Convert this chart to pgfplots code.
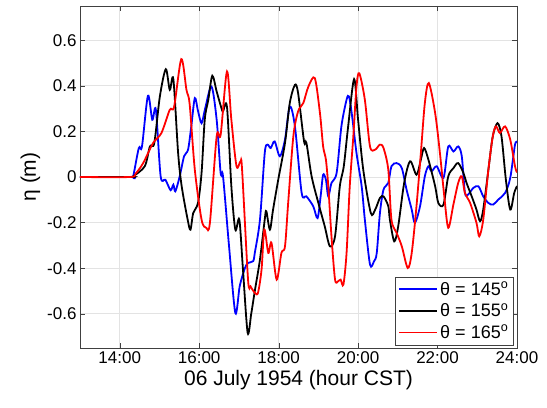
\documentclass[border=0pt]{standalone}
\usepackage{fontspec}
\setmainfont{Liberation Sans}
\usepackage{pgfplots}
\pgfplotsset{compat=1.18}
\pgfplotsset{longline/.style={legend image code/.code={\draw[##1] (0pt,0pt) -- (38pt,0pt);}}}

\begin{document}
\begin{tikzpicture}
\begin{axis}[
  scale only axis, width=437pt, height=342pt,
  xmin=13, xmax=24, ymin=-0.75, ymax=0.75,
  xtick={14,16,18,20,22,24},
  xticklabels={14:00,16:00,18:00,20:00,22:00,24:00},
  ytick={-0.6,-0.4,-0.2,0,0.2,0.4,0.6},
  yticklabels={-0.6,-0.4,-0.2,0,0.2,0.4,0.6},
  tick label style={font=\fontsize{17}{20}\selectfont},
  label style={font=\fontsize{21}{24}\selectfont},
  xlabel={06 July 1954 (hour CST)},
  ylabel={η (m)},
  grid=major, grid style={gray!22, line width=0.6pt},
  axis line style={black!75, line width=0.8pt},
  major tick length=5pt,
  tick style={black!75},
  legend cell align=left,
  legend style={at={(0.992,0.009)}, anchor=south east, draw=black!75, fill=white,
    font=\fontsize{18}{21}\selectfont, row sep=3pt, inner sep=3pt},
  longline,
]
\addplot[blue, line width=1.8pt, smooth, tension=0.5] coordinates {
(13,0)(14.30,0)(14.34,0.003)(14.48,0.127)(14.56,0.134)(14.71,0.356)(14.82,0.251)(14.91,0.295)
(15.03,0.003)(15.15,-0.012)(15.28,-0.058)(15.35,-0.034)(15.40,-0.063)(15.51,0.003)(15.62,0.091)
(15.72,0.12)(15.80,0.22)(15.89,0.346)(15.97,0.29)(16.06,0.236)(16.15,0.30)(16.31,0.397)(16.44,0.251)
(16.54,0.018)(16.60,0.003)(16.75,-0.30)(16.91,-0.596)(17.02,-0.479)(17.15,-0.40)(17.23,-0.377)
(17.36,-0.369)(17.40,-0.333)(17.53,-0.187)(17.65,0.105)(17.72,0.142)(17.80,0.127)(17.90,0.156)
(18.03,0.091)(18.16,0.164)(18.28,0.309)(18.41,0.222)(18.58,-0.070)(18.70,-0.085)(18.87,-0.128)
(18.98,-0.180)(19.06,-0.08)(19.12,0.01)(19.19,-0.012)(19.25,-0.085)(19.33,-0.026)(19.46,0.018)
(19.58,0.222)(19.71,0.339)(19.77,0.353)(19.84,0.280)(19.96,0.105)(20.09,-0.041)(20.17,-0.187)
(20.30,-0.384)(20.40,-0.37)(20.47,-0.333)(20.55,-0.158)(20.64,-0.055)(20.76,-0.026)(20.84,0.047)
(20.97,0.061)(21.10,0.039)(21.22,-0.055)(21.35,-0.143)(21.43,-0.201)(21.56,-0.128)(21.68,0.003)
(21.77,0.047)(21.85,0.025)(21.98,0.047)(22.15,-0.004)(22.27,0.134)(22.40,0.112)(22.52,0.134)
(22.61,0.091)(22.69,-0.070)(22.77,-0.077)(22.90,-0.048)(23.03,-0.041)(23.15,-0.085)(23.28,-0.114)
(23.40,-0.121)(23.53,-0.099)(23.70,-0.070)(23.83,-0.004)(23.95,0.142)(24,0.15)
};
\addplot[black, line width=1.8pt, smooth, tension=0.5] coordinates {
(13,0)(14.30,0)(14.34,0.003)(14.63,0.047)(14.76,0.134)(14.87,0.149)(15.01,0.353)(15.16,0.473)
(15.26,0.382)(15.35,0.429)(15.47,0.105)(15.56,-0.041)(15.71,-0.187)(15.78,-0.231)(15.85,-0.158)
(15.97,-0.114)(16.06,0.018)(16.14,0.251)(16.23,0.339)(16.33,0.444)(16.44,0.375)(16.56,0.302)
(16.60,0.288)(16.70,0.307)(16.81,-0.041)(16.91,-0.231)(17.01,-0.187)(17.10,-0.40)(17.22,-0.683)
(17.31,-0.60)(17.40,-0.50)(17.53,-0.362)(17.65,-0.187)(17.69,-0.150)(17.78,-0.231)(17.86,-0.143)
(17.99,-0.012)(18.16,0.149)(18.28,0.324)(18.41,0.404)(18.49,0.368)(18.64,0.156)(18.70,0.149)
(18.83,0.003)(19.00,-0.114)(19.16,-0.216)(19.29,-0.304)(19.42,-0.260)(19.54,-0.041)(19.64,0.047)
(19.75,0.222)(19.90,0.429)(20.00,0.251)(20.13,0.032)(20.32,-0.158)(20.43,-0.143)(20.55,-0.092)
(20.64,-0.085)(20.76,-0.128)(20.80,-0.187)(20.91,-0.282)(21.01,-0.216)(21.16,-0.026)(21.31,0.069)
(21.47,0.010)(21.58,0.076)(21.66,0.127)(21.77,0.076)(21.94,-0.041)(22.02,-0.114)(22.15,-0.121)
(22.27,0.003)(22.40,0.039)(22.52,0.061)(22.65,0.018)(22.73,-0.026)(22.86,-0.085)(22.98,-0.143)
(23.07,-0.194)(23.15,-0.143)(23.28,0.032)(23.39,0.178)(23.51,0.236)(23.61,0.178)(23.72,-0.012)
(23.83,-0.143)(23.93,-0.070)(24,-0.04)
};
\addplot[red, line width=1.8pt, smooth, tension=0.5] coordinates {
(13,0)(14.25,0)(14.40,0.015)(14.59,0.061)(14.84,0.149)(15.05,0.193)(15.26,0.295)(15.37,0.309)
(15.55,0.517)(15.68,0.382)(15.76,0.32)(15.89,0.032)(16.06,-0.187)(16.18,-0.223)(16.27,-0.201)
(16.44,0.178)(16.54,0.185)(16.70,0.463)(16.81,0.251)(16.94,0.047)(17.04,0.069)(17.08,0.032)
(17.23,-0.450)(17.29,-0.479)(17.40,-0.508)(17.48,-0.508)(17.57,-0.406)(17.64,-0.231)(17.74,-0.333)
(17.82,-0.289)(17.95,-0.450)(18.07,-0.333)(18.16,-0.304)(18.24,-0.114)(18.37,0.178)(18.49,0.288)
(18.62,0.324)(18.75,0.397)(18.91,0.434)(19.04,0.280)(19.12,0.134)(19.19,0.076)(19.25,-0.041)
(19.33,-0.260)(19.42,-0.450)(19.50,-0.457)(19.56,-0.450)(19.63,-0.472)(19.71,-0.333)(19.79,-0.041)
(19.88,0.178)(19.96,0.397)(20.03,0.455)(20.17,0.339)(20.30,0.134)(20.43,0.120)(20.55,0.142)
(20.64,0.127)(20.76,0.032)(20.84,-0.187)(20.97,-0.245)(21.10,-0.304)(21.25,-0.399)(21.35,-0.333)
(21.47,-0.128)(21.58,0.105)(21.68,0.324)(21.78,0.412)(21.94,0.280)(22.06,0.105)(22.17,-0.085)
(22.27,-0.223)(22.40,-0.12)(22.52,-0.026)(22.61,0.003)(22.69,-0.070)(22.82,-0.114)(22.98,-0.201)
(23.05,-0.260)(23.15,-0.187)(23.28,0.032)(23.39,0.178)(23.47,0.222)(23.57,0.193)(23.70,0.222)
(23.83,0.164)(23.95,0.047)(24,0.02)
};
\legend{θ = 145\textsuperscript{o}, θ = 155\textsuperscript{o}, θ = 165\textsuperscript{o}}
\end{axis}
\pgfresetboundingbox
\path ([shift={(-80pt,-60pt)}]current axis.south west) rectangle ([shift={(30pt,6pt)}]current axis.north east);
\end{tikzpicture}
\end{document}
